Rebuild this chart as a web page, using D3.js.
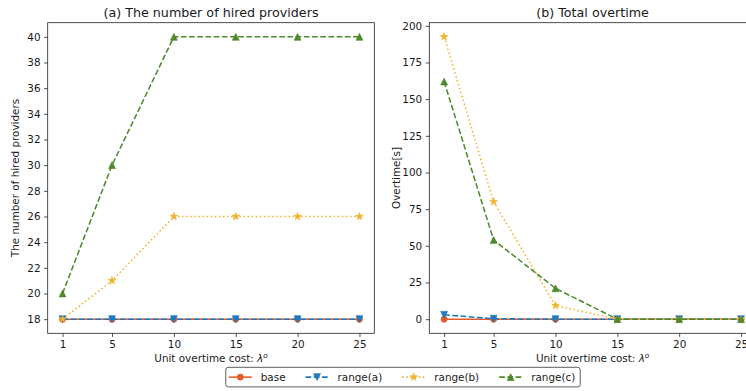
<!DOCTYPE html>
<html>
<head>
<meta charset="utf-8">
<script src="https://cdn.jsdelivr.net/npm/d3@7"></script>
<style>
  html, body { margin: 0; padding: 0; background: #fff; }
  svg { display: block; font-family: "DejaVu Sans", sans-serif; }
</style>
</head>
<body>
<svg id="chart" width="746" height="391"></svg>
<script>
// Unit overtime cost levels (x axis)
const costs = [1, 5, 10, 15, 20, 25];

// Series names and values
const seriesNames = ["base", "range(a)", "range(b)", "range(c)"];

// (a) number of hired providers
const hiredBase   = [18, 18, 18, 18, 18, 18];
const hiredRangeA = [18, 18, 18, 18, 18, 18];
const hiredRangeB = [18, 21, 26, 26, 26, 26];
const hiredRangeC = [20, 30, 40, 40, 40, 40];

// (b) total overtime
const overBase   = [0, 0, 0, 0, 0, 0];
const overRangeA = [3, 0.3, 0, 0, 0, 0];
const overRangeB = [192.5, 80, 9.3, 0, 0, 0];
const overRangeC = [162, 54, 21, 0, 0, 0];

// Tick values
const xTicks = [1, 5, 10, 15, 20, 25];
const hiredTicks = [18, 20, 22, 24, 26, 28, 30, 32, 34, 36, 38, 40];
const overTicks = [0, 25, 50, 75, 100, 125, 150, 175, 200];

const styles = [
  { color: "#E45C28", dash: null,        marker: "circle" },
  { color: "#1C79C1", dash: "5.7,2.5",   marker: "tri-down" },
  { color: "#F2B22A", dash: "1.5,2.6",   marker: "star" },
  { color: "#4E8A2C", dash: "5.7,2.5",   marker: "tri-up" }
];

const svg = d3.select("#chart");
const FONT = 10.4;
const LW = 1.55;

function markerPath(kind) {
  if (kind === "circle") {
    return d3.symbol(d3.symbolCircle, Math.PI * 3.1 * 3.1)();
  }
  if (kind === "tri-up") {
    const s = 3.4;
    return `M0,${-s}L${s},${s}L${-s},${s}Z`;
  }
  if (kind === "tri-down") {
    const s = 3.4;
    return `M0,${s}L${s},${-s}L${-s},${-s}Z`;
  }
  // five-point star
  const R = 4.0, r = R * 0.382;
  let p = "";
  for (let i = 0; i < 10; i++) {
    const rad = i % 2 === 0 ? R : r;
    const a = -Math.PI / 2 + i * Math.PI / 5;
    p += (i === 0 ? "M" : "L") + (rad * Math.cos(a)).toFixed(3) + "," + (rad * Math.sin(a)).toFixed(3);
  }
  return p + "Z";
}

function drawPanel(opts) {
  const { left, right, top, bottom, yDomain, yTicks, data, title, yLabel } = opts;
  const x = d3.scaleLinear().domain([-0.2, 26.2]).range([left, right]);
  const y = d3.scaleLinear().domain(yDomain).range([bottom, top]);
  const g = svg.append("g");

  // series lines and markers
  data.forEach((vals, i) => {
    const st = styles[i];
    const line = d3.line().x((d, j) => x(costs[j])).y(d => y(d));
    g.append("path")
      .attr("d", line(vals))
      .attr("fill", "none")
      .attr("stroke", st.color)
      .attr("stroke-width", LW)
      .attr("stroke-dasharray", st.dash)
      .attr("stroke-linejoin", "round");
    g.selectAll(null).data(vals).enter().append("path")
      .attr("d", markerPath(st.marker))
      .attr("transform", (d, j) => `translate(${x(costs[j])},${y(d)})`)
      .attr("fill", st.color)
      .attr("stroke", st.color)
      .attr("stroke-width", 0.7);
  });

  // axes
  const xAxis = d3.axisBottom(x).tickValues(xTicks).tickSize(3.6).tickPadding(3.5).tickFormat(d3.format("d"));
  const yAxis = d3.axisLeft(y).tickValues(yTicks).tickSize(3.6).tickPadding(3.5).tickFormat(d3.format("d"));
  const gx = g.append("g").attr("transform", `translate(0,${bottom})`).call(xAxis);
  const gy = g.append("g").attr("transform", `translate(${left},0)`).call(yAxis);
  [gx, gy].forEach(a => {
    a.select(".domain").remove();
    a.selectAll(".tick line").attr("stroke", "#222").attr("stroke-width", 0.8);
    a.selectAll(".tick text").attr("fill", "#1a1a1a").style("font-size", FONT + "px").style("font-family", "DejaVu Sans");
  });

  // frame
  g.append("rect")
    .attr("x", left).attr("y", top)
    .attr("width", right - left).attr("height", bottom - top)
    .attr("fill", "none").attr("stroke", "#222").attr("stroke-width", 0.8);

  // title
  g.append("text")
    .attr("x", (left + right) / 2).attr("y", top - 6)
    .attr("text-anchor", "middle")
    .style("font-size", "12.7px").attr("fill", "#1a1a1a")
    .text(title);

  // x label with italic lambda and superscript o
  const xl = g.append("text")
    .attr("x", (left + right) / 2).attr("y", bottom + 29)
    .attr("text-anchor", "middle")
    .style("font-size", FONT + "px").attr("fill", "#1a1a1a");
  xl.append("tspan").text("Unit overtime cost: ");
  xl.append("tspan").style("font-style", "italic").text("λ");
  xl.append("tspan").style("font-style", "italic").style("font-size", "7.3px").attr("dy", -4).text("o");

  // y label
  g.append("text")
    .attr("transform", `translate(${opts.yLabelX},${(top + bottom) / 2}) rotate(-90)`)
    .attr("text-anchor", "middle")
    .style("font-size", FONT + "px").attr("fill", "#1a1a1a")
    .text(yLabel);
}

const TOP = 22.7, BOTTOM = 333.3;

drawPanel({
  left: 47.7, right: 374.3, top: TOP, bottom: BOTTOM,
  yDomain: [16.9, 41.1], yTicks: hiredTicks,
  data: [hiredBase, hiredRangeA, hiredRangeB, hiredRangeC],
  title: "(a) The number of hired providers",
  yLabel: "The number of hired providers",
  yLabelX: 19
});

drawPanel({
  left: 429.3, right: 755.9, top: TOP, bottom: BOTTOM,
  yDomain: [-9.625, 202.125], yTicks: overTicks,
  data: [overBase, overRangeA, overRangeB, overRangeC],
  title: "(b) Total overtime",
  yLabel: "Overtime[s]",
  yLabelX: 400
});

// legend below both panels
const leg = svg.append("g");
const legTop = 367.3, legH = 19.6, legCenter = 403;
const handleLen = 23, textPad = 9, colSpace = 20, pad = 3;
const items = [];
let cursor = 0;
seriesNames.forEach((name, i) => {
  const t = leg.append("text")
    .style("font-size", FONT + "px").attr("fill", "#1a1a1a")
    .attr("y", legTop + legH / 2 + 3.7)
    .text(name);
  const w = t.node().getComputedTextLength();
  items.push({ t, w, start: cursor });
  cursor += handleLen + textPad + w + (i < seriesNames.length - 1 ? colSpace : 0);
});
const legW = cursor + pad * 2 + 2;
const legLeft = legCenter - legW / 2;
leg.insert("rect", ":first-child")
  .attr("x", legLeft).attr("y", legTop)
  .attr("width", legW).attr("height", legH)
  .attr("rx", 2.5).attr("ry", 2.5)
  .attr("fill", "#fff").attr("stroke", "#333").attr("stroke-width", 0.8);
items.forEach((it, i) => {
  const st = styles[i];
  const hx = legLeft + pad + it.start;
  const cy = legTop + legH / 2;
  leg.append("line")
    .attr("x1", hx).attr("x2", hx + handleLen)
    .attr("y1", cy).attr("y2", cy)
    .attr("stroke", st.color).attr("stroke-width", LW)
    .attr("stroke-dasharray", st.dash);
  leg.append("path")
    .attr("d", markerPath(st.marker))
    .attr("transform", `translate(${hx + handleLen / 2},${cy})`)
    .attr("fill", st.color).attr("stroke", st.color).attr("stroke-width", 0.7);
  it.t.attr("x", hx + handleLen + textPad);
});
</script>
</body>
</html>
